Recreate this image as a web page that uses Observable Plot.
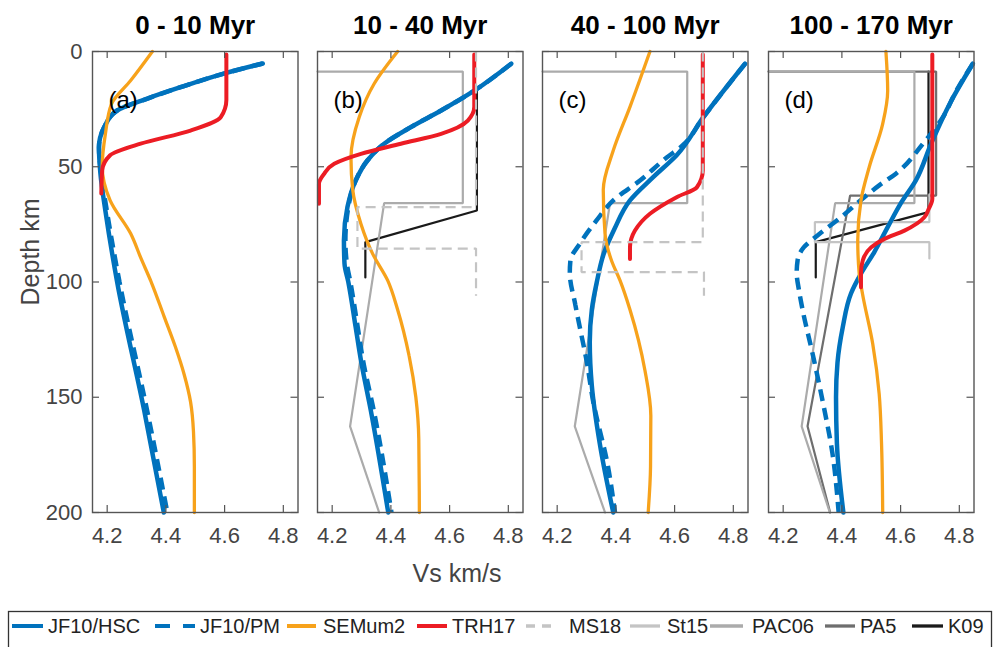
<!DOCTYPE html>
<html><head><meta charset="utf-8">
<script src="https://cdn.jsdelivr.net/npm/d3@7"></script>
<script src="https://cdn.jsdelivr.net/npm/@observablehq/plot@0.6"></script>
<style>
body{margin:0;background:#fff;font-family:"Liberation Sans",Arial,Helvetica,sans-serif;}
#root{position:relative;width:994px;height:647px;overflow:hidden;background:#fff;}
.panel{position:absolute;top:0;}
#overlay{position:absolute;left:0;top:0;pointer-events:none;}
</style></head>
<body><div id="root"></div>
<script>
// ---------- labels / ticks ----------
const panelTitles = ["0 - 10 Myr", "10 - 40 Myr", "40 - 100 Myr", "100 - 170 Myr"];
const panelLetters = ["(a)", "(b)", "(c)", "(d)"];
const xTicks = [4.2, 4.4, 4.6, 4.8];
const yTicks = [0, 50, 100, 150, 200];
const xDomain = [4.15, 4.85];
const yDomain = [0, 200];
const xLabel = "Vs km/s";
const yLabel = "Depth km";

// ---------- data: [Vs km/s, depth km] ----------
// panel (a) 0-10 Myr
const hscA = [[4.73,5.2],[4.60,9.5],[4.45,15.5],[4.337,20.4],[4.234,25.6],[4.19,32.8],[4.172,41.5],[4.177,53],[4.195,70],[4.234,100],[4.326,155.7],[4.393,200]];
const pmA  = [[4.73,5.2],[4.60,9.5],[4.45,15.5],[4.337,20.4],[4.234,25.6],[4.19,32.8],[4.172,41.5],[4.18,53],[4.2,70],[4.242,100],[4.336,155.7],[4.405,200]];
const semA = [[4.354,0],[4.28,12.6],[4.215,22.7],[4.194,35.7],[4.183,50],[4.21,64.6],[4.28,79],[4.316,90],[4.35,100],[4.394,115],[4.432,128],[4.462,140],[4.484,152],[4.494,165],[4.497,180],[4.497,200]];
const trhA = [[4.606,1.3],[4.606,21],[4.587,28.5],[4.484,34.3],[4.314,40],[4.21,45],[4.183,51.6],[4.18,61.6]];
// panel (b) 10-40 Myr
const hscB = [[4.81,5.3],[4.684,17],[4.571,25.6],[4.468,32.8],[4.377,40],[4.32,47.3],[4.28,56],[4.252,67.5],[4.24,82],[4.242,92],[4.255,100],[4.28,119.6],[4.298,134],[4.332,156],[4.391,200]];
const pmB  = [[4.81,5.3],[4.684,17],[4.571,25.6],[4.468,32.8],[4.377,40],[4.32,47.3],[4.28,56],[4.255,67.5],[4.245,82],[4.25,92],[4.262,100],[4.287,119.6],[4.305,134],[4.342,156],[4.402,200]];
const semB = [[4.423,0],[4.343,14],[4.292,28.5],[4.264,46],[4.27,60],[4.298,74.8],[4.338,87.8],[4.389,99.3],[4.423,112],[4.462,132],[4.485,150],[4.495,168],[4.497,200]];
const trhB = [[4.684,1.3],[4.684,24],[4.662,30],[4.571,35.7],[4.434,40],[4.298,44.4],[4.207,48.7],[4.173,53],[4.155,57.4],[4.155,66]];
const ms18B  = [[4.69,0],[4.69,67.5],[4.286,67.5],[4.286,85.5],[4.69,85.5],[4.69,106]];
const pac06B = [[4.15,8.7],[4.645,8.7],[4.645,65.8],[4.377,65.8],[4.261,162.6],[4.36,200]];
const k09B   = [[4.693,17],[4.693,69],[4.313,82.7],[4.313,98]];
// panel (c) 40-100 Myr
const hscC = [[4.84,5.3],[4.698,28.5],[4.607,45],[4.527,54.5],[4.448,64.6],[4.395,77],[4.358,88],[4.335,100],[4.318,112],[4.311,126],[4.318,145],[4.345,170],[4.391,200]];
const pmC  = [[4.84,5.3],[4.698,28.5],[4.625,41],[4.573,46],[4.482,56],[4.391,64.6],[4.334,73.3],[4.277,83.4],[4.245,90.7],[4.243,96],[4.262,110],[4.277,119.6],[4.3,134],[4.322,151.4],[4.373,180],[4.397,200]];
const semC = [[4.516,0],[4.448,24],[4.391,43],[4.357,60],[4.363,79],[4.385,90.7],[4.414,99.3],[4.448,112],[4.499,138.4],[4.519,158],[4.518,180],[4.51,200]];
const trhC = [[4.696,1.3],[4.696,51.6],[4.676,58.9],[4.607,63.2],[4.516,70.4],[4.465,77.7],[4.448,84.9],[4.448,90]];
const ms18C  = [[4.696,0],[4.696,82.7],[4.283,82.7],[4.283,95.7],[4.70,95.7],[4.70,106]];
const pac06C = [[4.15,8.7],[4.643,8.7],[4.643,65.8],[4.38,65.8],[4.26,162.6],[4.363,200]];
// panel (d) 100-170 Myr
const hscD = [[4.846,5.3],[4.77,22],[4.704,40],[4.652,55.9],[4.6,66],[4.556,76.2],[4.51,87.1],[4.465,96.4],[4.431,105],[4.403,119.6],[4.385,135],[4.38,150],[4.383,170],[4.405,200]];
const pmD  = [[4.846,5.3],[4.79,17],[4.744,28.5],[4.676,40],[4.584,53],[4.527,58.1],[4.46,65],[4.397,71.9],[4.317,79.8],[4.27,85],[4.249,90.7],[4.246,96],[4.254,103.7],[4.266,112],[4.3,131],[4.334,151.4],[4.368,174.5],[4.389,200]];
const semD = [[4.55,0],[4.556,17],[4.539,31.4],[4.493,50.2],[4.465,64.6],[4.454,82],[4.459,96.4],[4.47,105],[4.505,126.8],[4.527,148.5],[4.535,170],[4.539,200]];
const trhD = [[4.708,1.3],[4.708,64],[4.695,68.5],[4.681,71.9],[4.613,77.7],[4.545,81.3],[4.5,84.9],[4.471,90.7],[4.465,96],[4.465,102.3]];
const st15D  = [[4.698,62],[4.698,74],[4.308,74],[4.308,82.7],[4.698,82.7],[4.698,89.8]];
const pac06D = [[4.15,8.7],[4.647,8.7],[4.647,65.8],[4.377,65.8],[4.263,162.6],[4.359,200]];
const pa5D   = [[4.15,8.7],[4.721,8.7],[4.721,62.5],[4.428,62.5],[4.283,162.6],[4.36,200]];
const k09D   = [[4.695,8.7],[4.695,69.7],[4.311,82.7],[4.311,98]];

// ---------- series styles ----------
const styles = {
  "JF10/HSC": {stroke: "#0072BD", width: 4.5, curve: "monotone-y"},
  "JF10/PM":  {stroke: "#0072BD", width: 4.5, dash: "12,7", curve: "monotone-y"},
  "SEMum2":   {stroke: "#F7A21B", width: 3.3, curve: "monotone-y"},
  "TRH17":    {stroke: "#EC1C24", width: 4, curve: "monotone-y"},
  "MS18":     {stroke: "#C4C4C4", width: 2.2, dash: "10,6", curve: "linear"},
  "St15":     {stroke: "#C4C4C4", width: 2.2, curve: "linear"},
  "PAC06":    {stroke: "#ABABAB", width: 2.2, curve: "linear"},
  "PA5":      {stroke: "#6E6E6E", width: 2.2, curve: "linear"},
  "K09":      {stroke: "#1A1A1A", width: 2.2, curve: "linear"}
};
// drawing order (bottom to top)
const drawOrder = ["K09", "PA5", "PAC06", "St15", "JF10/HSC", "JF10/PM", "SEMum2", "TRH17", "MS18"];

const panels = [
  {"JF10/HSC": hscA, "JF10/PM": pmA, "SEMum2": semA, "TRH17": trhA},
  {"JF10/HSC": hscB, "JF10/PM": pmB, "SEMum2": semB, "TRH17": trhB, "MS18": ms18B, "PAC06": pac06B, "K09": k09B},
  {"JF10/HSC": hscC, "JF10/PM": pmC, "SEMum2": semC, "TRH17": trhC, "MS18": ms18C, "PAC06": pac06C},
  {"JF10/HSC": hscD, "JF10/PM": pmD, "SEMum2": semD, "TRH17": trhD, "St15": st15D, "PAC06": pac06D, "PA5": pa5D, "K09": k09D}
];

// ---------- layout ----------
const FRAME_LEFT0 = 92, FRAME_STEP = 225.2, PW = 205.5;
const MT = 51, H = 560, MB = 48, FH = H - MT - MB;
const TICK = 7;
const axisColor = "#555";
const root = document.getElementById("root");

panels.forEach((series, i) => {
  const first = i === 0;
  const ML = first ? FRAME_LEFT0 : 12;
  const MR = 12;
  const left = FRAME_LEFT0 + i * FRAME_STEP - ML;
  const marks = [];
  for (const name of drawOrder) {
    const pts = series[name];
    if (!pts) continue;
    const st = styles[name];
    const rows = pts.map(([vs, depth]) => ({vs, depth}));
    marks.push(Plot.line(rows, {
      x: "vs", y: "depth", stroke: st.stroke, strokeWidth: st.width,
      strokeDasharray: st.dash, strokeLinecap: st.dash ? "butt" : "round",
      strokeLinejoin: "miter", curve: st.curve
    }));
  }
  marks.push(
    Plot.ruleY(yTicks, {insetRight: PW - TICK, stroke: axisColor, strokeWidth: 1.2}),
    Plot.ruleY(yTicks, {insetLeft: PW - TICK, stroke: axisColor, strokeWidth: 1.2}),
    Plot.ruleX(xTicks, {insetBottom: FH - TICK, stroke: axisColor, strokeWidth: 1.2}),
    Plot.ruleX(xTicks, {insetTop: FH - TICK, stroke: axisColor, strokeWidth: 1.2}),
    Plot.frame({stroke: axisColor, strokeWidth: 1.4}),
    Plot.text([panelLetters[i]], {frameAnchor: "top-left", dx: 16, dy: 49, textAnchor: "start", lineAnchor: "middle", fontSize: 24, fill: "#000"}),
    Plot.text([panelTitles[i]], {frameAnchor: "top", dy: -26, lineAnchor: "middle", fontSize: 26, fontWeight: "bold", fill: "#000"})
  );
  const chart = Plot.plot({
    width: ML + PW + MR, height: H,
    marginLeft: ML, marginRight: MR, marginTop: MT, marginBottom: MB,
    style: {fontFamily: "Liberation Sans, Arial, Helvetica, sans-serif", fontSize: "22px", color: "#444", background: "transparent", overflow: "visible"},
    x: {domain: xDomain, ticks: xTicks, tickSize: 0, tickPadding: 15, tickFormat: d => d3.format(".1f")(d), label: null},
    y: {domain: yDomain, reverse: true, ticks: yTicks, tickSize: 0, tickPadding: 10, tickFormat: d => String(d), label: null, axis: first ? "left" : null},
    marks
  });
  chart.classList.add("panel");
  chart.style.left = left + "px";
  root.appendChild(chart);
});

// ---------- axis labels and legend ----------
const legendItems = [
  {name: "JF10/HSC", x0: 12, x1: 43, tx: 48},
  {name: "JF10/PM", x0: 155, x1: 195, tx: 200},
  {name: "SEMum2", x0: 287, x1: 316, tx: 323},
  {name: "TRH17", x0: 417, x1: 447, tx: 452},
  {name: "MS18", x0: 526, x1: 557, tx: 569},
  {name: "St15", x0: 630, x1: 660, tx: 667},
  {name: "PAC06", x0: 710, x1: 743, tx: 752},
  {name: "PA5", x0: 825, x1: 855, tx: 860},
  {name: "K09", x0: 912, x1: 943, tx: 948}
];
const ns = "http://www.w3.org/2000/svg";
const svg = document.createElementNS(ns, "svg");
svg.setAttribute("id", "overlay");
svg.setAttribute("width", 994);
svg.setAttribute("height", 647);
svg.setAttribute("font-family", "Liberation Sans, Arial, Helvetica, sans-serif");
function el(tag, attrs, text) {
  const e = document.createElementNS(ns, tag);
  for (const k in attrs) e.setAttribute(k, attrs[k]);
  if (text != null) e.textContent = text;
  svg.appendChild(e);
  return e;
}
el("text", {x: 457, y: 573, "text-anchor": "middle", "dominant-baseline": "central", "font-size": 25, fill: "#444"}, xLabel);
el("text", {transform: "translate(30,252) rotate(-90)", "text-anchor": "middle", "dominant-baseline": "central", "font-size": 25, fill: "#444"}, yLabel);
el("rect", {x: 8.5, y: 611.5, width: 983, height: 50, fill: "#fff", stroke: "#333", "stroke-width": 1.3});
for (const it of legendItems) {
  const st = styles[it.name];
  const a = {x1: it.x0, x2: it.x1, y1: 626, y2: 626, stroke: st.stroke, "stroke-width": st.width > 3 ? 4 : 3.3};
  if (st.dash) a["stroke-dasharray"] = it.name === "JF10/PM" ? "15,13" : "9,7";
  el("line", a);
  el("text", {x: it.tx, y: 626, "dominant-baseline": "central", "font-size": 20, fill: "#222"}, it.name);
}
root.appendChild(svg);
</script>
</body></html>
